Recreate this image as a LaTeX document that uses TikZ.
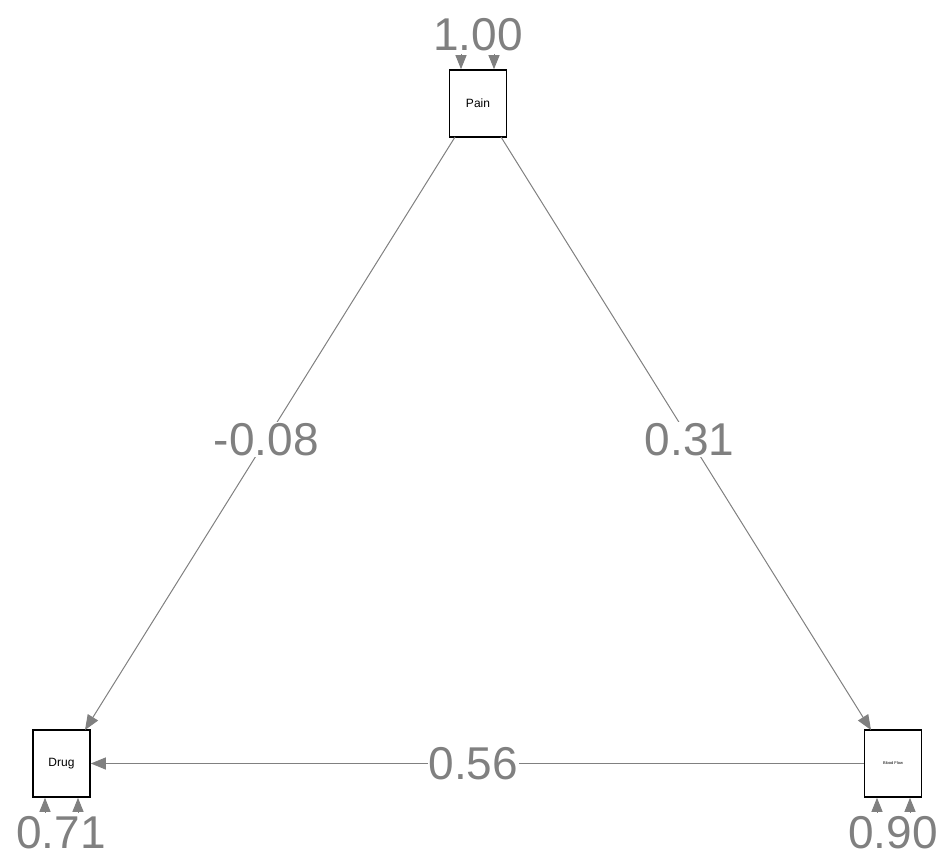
\documentclass[tikz,border=0pt]{standalone}
\usepackage{fontspec}
\setmainfont{Liberation Sans}
\usetikzlibrary{arrows.meta}
\definecolor{edgegray}{RGB}{128,128,128}
\begin{document}
\begin{tikzpicture}[x=1pt,y=-1pt,
  varbox/.style={draw=black,line width=1.6pt,fill=white,minimum width=57pt,minimum height=67pt,inner sep=0pt},
  edge/.style={draw=edgegray,line width=1pt,-{Triangle[length=15pt,width=12pt]}},
  resid/.style={draw=edgegray,line width=1pt,-{Triangle[length=14pt,width=11pt]}},
  wlabel/.style={text=edgegray,font=\fontsize{46}{46}\selectfont,inner sep=1pt},
  elabel/.style={wlabel,fill=white}]
\useasboundingbox (0,0) rectangle (945,858);
\node[varbox] (pain) at (478,103.5) {\fontsize{12}{13}\selectfont Pain};
\node[varbox] (drug) at (61.5,763.5) {\fontsize{12}{13}\selectfont Drug};
\node[varbox] (blood) at (893,763.5) {\fontsize{4}{4}\selectfont Blood Flow};
% residual labels
\node[wlabel] (rp) at (478,35) {1.00};
\node[wlabel] (rd) at (61,833) {0.71};
\node[wlabel] (rb) at (893,833) {0.90};
% residual arrowheads
\coordinate (p1) at (461,54);
\coordinate (p2) at (494,54);
\draw[resid] (p1) -- (pain.north -| p1);
\draw[resid] (p2) -- (pain.north -| p2);
\coordinate (d1) at (45,812);
\coordinate (d2) at (78,812);
\draw[resid] (d1) -- (drug.south -| d1);
\draw[resid] (d2) -- (drug.south -| d2);
\coordinate (b1) at (877,812);
\coordinate (b2) at (910,812);
\draw[resid] (b1) -- (blood.south -| b1);
\draw[resid] (b2) -- (blood.south -| b2);
% edges
\coordinate (ps) at (455,137);
\coordinate (pe) at (501,137);
\coordinate (dt) at (85,730);
\coordinate (bt) at (871,730);
\draw[edge] (ps) -- node[elabel,pos=0.51] (l1) {-0.08} (dt);
\draw[edge] (pe) -- node[elabel,pos=0.51] (l2) {0.31} (bt);
\draw[edge] (blood.west) -- node[elabel,pos=0.505] (l3) {0.56} (drug.east);
\end{tikzpicture}
\end{document}
